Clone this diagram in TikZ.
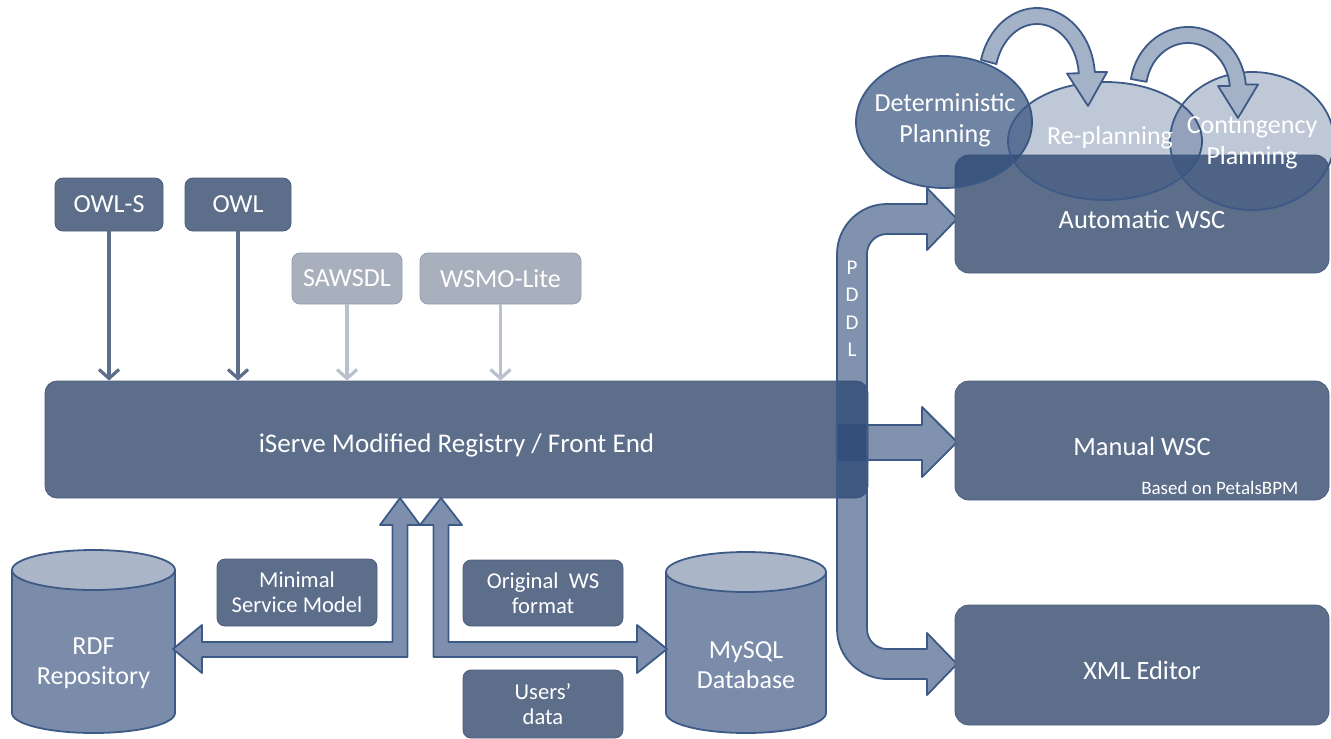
\documentclass[tikz,border=0pt]{standalone}
\usepackage{fontspec}
\setmainfont{Carlito}
\usetikzlibrary{calc,arrows.meta,shapes.geometric}

\definecolor{slate}{HTML}{5D6E8B}
\definecolor{slateedge}{HTML}{4B5D7B}
\definecolor{paleslate}{HTML}{A9B0BD}
\definecolor{paleedge}{HTML}{959EAE}
\definecolor{paleline}{HTML}{B9C1CD}
\definecolor{navy}{HTML}{2C4A78}
\definecolor{navyedge}{HTML}{3D5A86}
\definecolor{drumbody}{HTML}{7B8CAB}
\definecolor{drumtop}{HTML}{AAB5C8}
\definecolor{blockfill}{HTML}{7E8FAE}
\definecolor{planfill}{HTML}{A4B2C8}

\tikzset{
  darkbox/.style={draw=slateedge, fill=slate, rounded corners=4pt, text=white, align=center, inner sep=0pt, font=\fontsize{13}{15}\selectfont},
  palebox/.style={darkbox, draw=paleedge, fill=paleslate},
  labelbox/.style={darkbox, minimum width=80pt, font=\fontsize{11.3}{12.5}\selectfont},
  wscbox/.style={darkbox, minimum width=187pt, minimum height=59pt, rounded corners=7pt, font=\fontsize{13.2}{15}\selectfont},
  feedarrow/.style={draw=slate, line width=1.6pt, -{Straight Barb[length=4.5pt,width=10pt]}},
  palearrow/.style={feedarrow, draw=paleline},
  planblob/.style={ellipse, draw=navyedge, line width=0.9pt, fill=navy, inner sep=0pt},
  plantext/.style={text=white, align=center, inner sep=0pt, font=\fontsize{13}{15.5}\selectfont},
  planarrow/.style={draw=navyedge, line width=0.9pt, fill=planfill, line join=round},
  blockarrow/.style={draw=navyedge, line width=0.9pt, fill=blockfill, line join=round},
  pddlband/.style={draw=navyedge, line width=0.9pt, fill=navy, fill opacity=0.6, line join=round},
  drumtext/.style={text=white, align=center, font=\fontsize{13}{15}\selectfont},
  pddlchar/.style={text=white, font=\fontsize{10.5}{12}\selectfont},
  smallnote/.style={text=white, font=\fontsize{9.5}{11}\selectfont}
}
% text set a little below the middle of a box
\def\lowered#1{\raisebox{-2.75pt}[\height][\depth]{#1}}
% cylinder: centre x, top y, half width, bottom y
\def\drum(#1,#2:#3:#4){%
  \draw[draw=navyedge, line width=0.9pt, fill=drumbody] (#1-#3,#2) -- (#1-#3,#4) arc[start angle=180, end angle=0, x radius=#3, y radius=20] -- (#1+#3,#2) -- cycle;
  \draw[draw=navyedge, line width=0.9pt, fill=drumtop] (#1,#2) ellipse [x radius=#3, y radius=20];}

\begin{document}
\begin{tikzpicture}[x=0.5pt,y=-0.5pt]
		%%%%% START %%%%%
		\useasboundingbox (0,0) rectangle (1331,738);
		
		\node[darkbox, minimum width=411.5pt, minimum height=58.5pt, rounded corners=6pt, font=\fontsize{13.5}{15}\selectfont] (registry) at (456.5,439.5) {\lowered{iServe Modified Registry / Front End}};
		\node[darkbox, minimum width=54pt, minimum height=26.5pt] (owls) at (109,204.5) {OWL-S};
		\node[darkbox, minimum width=53pt, minimum height=26.5pt] (owl) at (238,204.5) {OWL};
		\node[palebox, minimum width=55pt, minimum height=25.5pt] (sawsdl) at (347,278.5) {SAWSDL};
		\node[palebox, minimum width=80.5pt, minimum height=25.5pt] (wsmo) at (500.5,278.5) {WSMO-Lite};
		
		\draw[feedarrow] (owls) -- (owls |- registry.north);
		\draw[feedarrow] (owl) -- (owl |- registry.north);
		\draw[palearrow] (sawsdl) -- (sawsdl |- registry.north);
		\draw[palearrow] (wsmo) -- (wsmo |- registry.north);
		
		% PDDL band and the arrow to the manual editor
		\draw[pddlband] (837,425) -- (922,425) -- (922,407) -- (957,442) -- (922,477) -- (922,460) -- (837,460) -- cycle;
		\draw[pddlband] (927,204) -- (887,204) arc[start angle=-90, end angle=-180, radius=50] -- (837,629) arc[start angle=180, end angle=90, radius=50] -- (927,679) -- (927,695) -- (957,664) -- (927,633) -- (927,649) -- (887,649) arc[start angle=90, end angle=180, radius=20] -- (867,254) arc[start angle=180, end angle=270, radius=20] -- (927,234) -- (927,250) -- (957,219) -- (927,188) -- cycle;
		\foreach \ch [count=\i] in {P,D,D,L}
		\node[pddlchar] (pddl\i) at (852,240+27.5*\i) {\ch};
		
		% composition tools
		\node[wscbox] (automatic) at (1142,214) {\lowered{Automatic WSC}};
		\node[wscbox, minimum height=59.5pt] (manual) at (1142,440.5) {\lowered{Manual WSC}};
		\node[wscbox, minimum height=60pt] (xmledit) at (1142,665) {\lowered{XML Editor}};
		\node[smallnote, anchor=base east] (petals) at ($(manual.south east)+(-24,-6)$) {Based on PetalsBPM};
		
		\node[planblob, fill opacity=0.68, minimum width=88pt, minimum height=66pt] (detplan) at (944,122) {};
		\node[planblob, fill opacity=0.3, minimum width=97pt, minimum height=59pt] (replan) at (1105,141) {};
		\node[planblob, fill opacity=0.3, minimum width=82pt, minimum height=69pt] (contplan) at (1252,141) {};
		\node[plantext] (dettext) at (945,120) {Deterministic\\Planning};
		\node[plantext] (replantext) at (1110,138) {Re-planning};
		\node[plantext] (conttext) at (1252,142) {Contingency\\Planning};
		
		\draw[planarrow] (981,59.9) arc[start angle=-165, end angle=-5, x radius=58, y radius=70] -- (1107,72) -- (1088,106) -- (1067,73.5) -- (1078.8,73.3) arc[start angle=-5, end angle=-165, x radius=42, y radius=54] -- cycle;
		\draw[planarrow] (1130.9,79) arc[start angle=-170, end angle=-5, x radius=58, y radius=63] -- (1258,84.5) -- (1238,118) -- (1218,86) -- (1229.8,85.9) arc[start angle=-5, end angle=-170, x radius=42, y radius=47] -- cycle;
		
		% stores
		\drum(93.5,570:81.5:713)
		\drum(746,572:80:713)
		\node[drumtext] (rdf) at (93.5,663) {RDF\\Repository};
		\node[drumtext] (mysql) at (746,665) {MySQL\\Database};
		
		\draw[blockarrow] (400,498) -- (420,525) -- (407.5,525) -- (407.5,657) -- (202,657) -- (202,673) -- (173,649) -- (202,625) -- (202,642) -- (392.5,642) -- (392.5,525) -- (380,525) -- cycle;
		\draw[blockarrow] (441,498) -- (462,525) -- (448.5,525) -- (448.5,642) -- (637,642) -- (637,625) -- (667,649) -- (637,673) -- (637,657) -- (433.5,657) -- (433.5,525) -- (420,525) -- cycle;
		
		\node[labelbox, minimum height=33.5pt] (minimal) at (297,592.5) {Minimal\\Service Model};
		\node[labelbox, minimum height=33pt] (original) at (543,593) {Original~~WS\\format};
		\node[labelbox, minimum height=34pt] (users) at (543,704) {Users'\\data};
		%%%%% END %%%%%
	\end{tikzpicture}
\end{document}
